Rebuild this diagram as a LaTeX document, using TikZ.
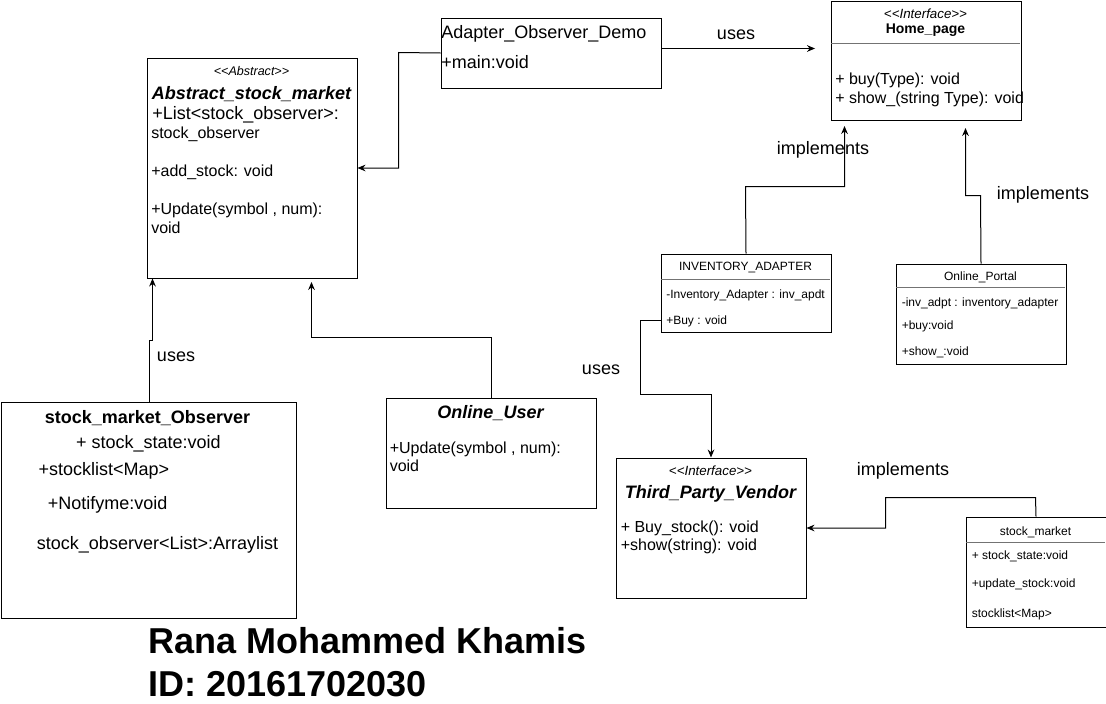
\documentclass[tikz,border=0pt]{standalone}
\usepackage{fontspec}
\setmainfont{Liberation Sans}
\usetikzlibrary{arrows.meta}
\tikzset{
  umlbox/.style={draw, line width=0.75pt, inner sep=0pt, anchor=north west},
  sepline/.style={draw=black!55, line width=0.75pt},
  conn/.style={draw, line width=0.75pt, -{Stealth[length=6pt,width=5pt]}},
  txt/.style={anchor=base west, inner sep=0pt},
  ctxt/.style={anchor=base, inner sep=0pt},
  fbig/.style={font=\fontsize{13.5}{16}\selectfont},
  fmid/.style={font=\fontsize{12}{14}\selectfont},
  fsml/.style={font=\fontsize{9}{11}\selectfont},
  fhome/.style={font=\fontsize{10.5}{12}\selectfont},
  fhuge/.style={font=\fontsize{27}{32}\selectfont\bfseries},
}
\begin{document}
\begin{tikzpicture}[x=0.75pt,y=-0.75pt]
\useasboundingbox (0,0) rectangle (1106,703);
% boxes
\node[umlbox, minimum width=165pt, minimum height=52.5pt] (demo) at (440.5,17.5) {};
\node[umlbox, minimum width=157.5pt, minimum height=165pt] (asm) at (146.5,57.5) {};
\node[umlbox, minimum width=142.5pt, minimum height=89.6pt] (home) at (830.5,0.5) {};
\node[umlbox, minimum width=127.5pt, minimum height=58.5pt] (inv) at (660.5,253.5) {};
\node[umlbox, minimum width=127.5pt, minimum height=75pt] (portal) at (895.5,263.5) {};
\node[umlbox, minimum width=221.25pt, minimum height=162pt] (obs) at (0.5,401.5) {};
\node[umlbox, minimum width=157.5pt, minimum height=82.5pt] (user) at (385.5,397.5) {};
\node[umlbox, minimum width=142.5pt, minimum height=105pt] (tpv) at (615.5,457.5) {};
\node[umlbox, minimum width=105pt, minimum height=82.5pt] (sm) at (965.5,516.5) {};
% separators
\draw[sepline] (831,43.5) -- (1020,43.5);
\draw[sepline] (661,279.5) -- (830,279.5);
\draw[sepline] (896,287.5) -- (1065,287.5);
\draw[sepline] (966,542.5) -- (1105,542.5);

% Adapter_Observer_Demo
\node[txt, fbig] (demoT) at (441,38.4) {Adapter\_Observer\_Demo};
\node[txt, fbig] (demoA) at (441,68.4) {+main:void};

% Abstract_stock_market
\node[ctxt, font=\fontsize{9.4}{11}\selectfont\itshape] (asmS) at (251.5,75) {<{}<Abstract>{}>};
\node[ctxt, fbig, font=\fontsize{13.5}{16}\selectfont\bfseries\itshape] (asmT) at (251.5,99) {Abstract\_stock\_market};
\node[txt, fbig] (asmA) at (152,119.5) {+List<stock\_observer>:};
\node[txt, fmid] (asmB) at (151,138.7) {stock\_observer};
\node[txt, fmid] (asmC) at (151,176.7) {+add\_stock: void};
\node[txt, fmid] (asmD) at (151,214.7) {+Update(symbol , num):};
\node[txt, fmid] (asmE) at (151,233.7) {void};

% Home_page
\node[ctxt, font=\fontsize{10}{12}\selectfont\itshape] (homeS) at (925.5,18.5) {<{}<Interface>{}>};
\node[ctxt, font=\fontsize{10.5}{12}\selectfont\bfseries] (homeT) at (925.5,33.3) {Home\_page};
\node[txt, fmid] (homeA) at (835,84.5) {+ buy(Type): void};
\node[txt, fmid] (homeB) at (835,103.5) {+ show\_(string Type): void};

% INVENTORY_ADAPTER
\node[ctxt, fsml] (invT) at (745.5,270.5) {INVENTORY\_ADAPTER};
\node[txt, fsml] (invA) at (666,298.5) {-Inventory\_Adapter : inv\_apdt};
\node[txt, fsml] (invB) at (666,324.3) {+Buy : void};

% Online_Portal
\node[ctxt, fsml] (portT) at (980.5,280.5) {Online\_Portal};
\node[txt, fsml] (portA) at (901.5,306.3) {-inv\_adpt : inventory\_adapter};
\node[txt, fsml] (portB) at (901.5,329.3) {+buy:void};
\node[txt, fsml] (portC) at (901.5,355.3) {+show\_:void};

% stock_market_Observer
\node[ctxt, font=\fontsize{13.5}{16}\selectfont\bfseries] (obsT) at (147.5,423) {stock\_market\_Observer};
\node[ctxt, fbig] (obsA) at (148.3,448) {+ stock\_state:void};
\node[txt, fbig] (obsB) at (38.3,475.4) {+stocklist<Map>};
\node[txt, fbig] (obsC) at (47.5,509.7) {+Notifyme:void};
\node[txt, fbig] (obsD) at (36.7,549.7) {stock\_observer<List>:Arraylist};

% Online_User
\node[ctxt, font=\fontsize{13.5}{16}\selectfont\bfseries\itshape] (userT) at (490.5,418) {Online\_User};
\node[txt, fmid] (userA) at (389.5,453) {+Update(symbol , num):};
\node[txt, fmid] (userB) at (389.5,471.7) {void};

% Third_Party_Vendor
\node[ctxt, font=\fontsize{10}{12}\selectfont\itshape] (tpvS) at (710.5,475.5) {<{}<Interface>{}>};
\node[ctxt, font=\fontsize{13.5}{16}\selectfont\bfseries\itshape] (tpvT) at (710.5,498) {Third\_Party\_Vendor};
\node[txt, fmid] (tpvA) at (620.5,532.4) {+ Buy\_stock(): void};
\node[txt, fmid] (tpvB) at (620.5,550.7) {+show(string): void};

% stock_market
\node[ctxt, fsml] (smT) at (1035.5,535.3) {stock\_market};
\node[txt, fsml] (smA) at (971.5,559.3) {+ stock\_state:void};
\node[txt, fsml] (smB) at (971.5,587.6) {+update\_stock:void};
\node[txt, fsml] (smC) at (971.5,617.6) {stocklist<Map>};

% connectors
\coordinate (p1) at (398.5,52.5);
\draw[conn] (demo.west) -- (p1) |- (asm.east);
\coordinate (p2) at (815,48.5);
\draw[conn] (demo.east |- p2) -- (p2);
\coordinate (p3a) at (745.5,186.5);
\coordinate (p3) at (844.5,126);
\draw[conn] (inv.north) -- (p3a) -| (p3);
\coordinate (p4a) at (980.5,195.5);
\coordinate (p4) at (965.5,128);
\draw[conn] (portal.north) -- (p4a) -| (p4);
\coordinate (p5a) at (149.5,340.5);
\coordinate (p5) at (152.5,278.5);
\draw[conn] (obs.north -| p5a) -- (p5a) -| (p5);
\coordinate (p6a) at (311.5,337.5);
\coordinate (p6) at (311.5,282);
\draw[conn] (user.north) |- (p6a) -- (p6);
\coordinate (p7a) at (640.5,320.5);
\coordinate (p7b) at (640.5,394.5);
\draw[conn] (inv.west |- p7a) -- (p7a) -- (p7b) -| (tpv.north);
\coordinate (p8a) at (1035.5,497.5);
\coordinate (p8b) at (885.5,497.5);
\draw[conn] (sm.north) -- (p8a) -- (p8b) |- (tpv.east);

% connector labels
\node[ctxt, fbig] (l1) at (736,39) {uses};
\node[ctxt, fbig] (l2) at (823,154) {implements};
\node[ctxt, fbig] (l3) at (1043,199) {implements};
\node[ctxt, fbig] (l4) at (176,361) {uses};
\node[ctxt, fbig] (l5) at (601,374) {uses};
\node[ctxt, fbig] (l6) at (903,475) {implements};

% author
\node[txt, fhuge] (name) at (148,653) {Rana Mohammed Khamis};
\node[txt, fhuge] (idt) at (148,696) {ID: 20161702030};
\end{tikzpicture}
\end{document}
